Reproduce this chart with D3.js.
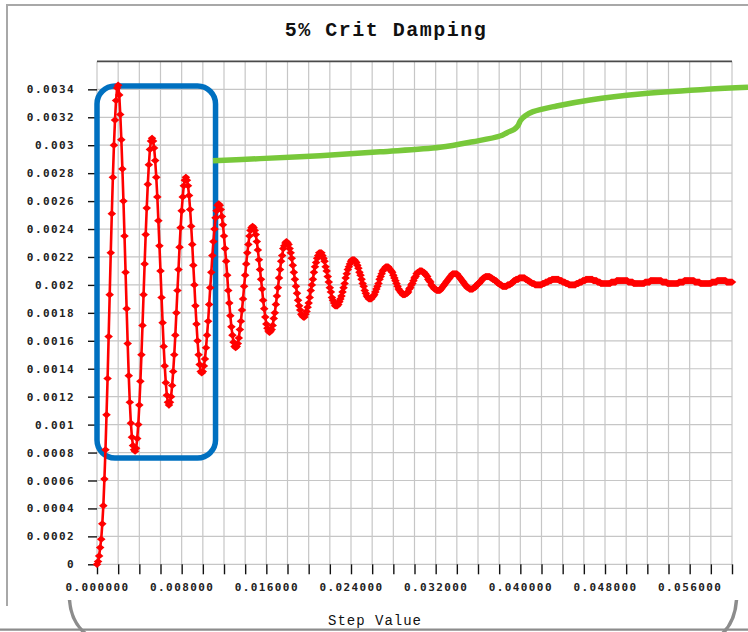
<!DOCTYPE html>
<html><head><meta charset="utf-8">
<script src="https://cdn.jsdelivr.net/npm/d3@7/dist/d3.min.js"></script>
<style>
html,body{margin:0;padding:0;background:#fff;}
svg{display:block;}
</style></head><body>
<svg id="chart" width="748" height="632"></svg>
<script>
// ---------------- data ----------------
const chartTitle = "5% Crit Damping";
const xAxisTitle = "Step Value";
const stepSize = 0.0001; // sampling interval of the step values
const displacement = [
0,0.00002,0.00006,0.00012,0.00018,0.00029,0.00042,0.00061,0.00082,0.00107,
0.00133,0.00163,0.00193,0.00223,0.00251,0.00277,0.00300,0.00318,0.00332,0.00341,
0.00343,0.00336,0.00322,0.00304,0.00283,0.00260,0.00235,0.00209,0.00183,0.00158,
0.00135,0.00116,0.00101,0.00091,0.00085,0.00082,0.00081,0.00083,0.00090,0.00100,
0.00114,0.00131,0.00150,0.00171,0.00193,0.00215,0.00236,0.00255,0.00272,0.00286,
0.00297,0.00303,0.00305,0.00303,0.00298,0.00289,0.00277,0.00263,0.00246,0.00228,
0.00210,0.00191,0.00173,0.00156,0.00142,0.00130,0.00121,0.00116,0.00114,0.00116,
0.00120,0.00128,0.00138,0.00150,0.00164,0.00180,0.00196,0.00211,0.00227,0.00241,
0.00253,0.00263,0.00271,0.00275,0.00277,0.00275,0.00271,0.00264,0.00254,0.00242,
0.00229,0.00214,0.00200,0.00185,0.00172,0.00160,0.00150,0.00143,0.00138,0.00137,
0.00138,0.00142,0.00147,0.00155,0.00164,0.00174,0.00186,0.00198,0.00209,0.00221,
0.00231,0.00240,0.00248,0.00253,0.00257,0.00258,0.00257,0.00254,0.00249,0.00243,
0.00235,0.00226,0.00217,0.00207,0.00196,0.00187,0.00178,0.00170,0.00164,0.00159,
0.00156,0.00155,0.00156,0.00158,0.00162,0.00168,0.00174,0.00182,0.00190,0.00199,
0.00207,0.00215,0.00223,0.00229,0.00235,0.00239,0.00241,0.00242,0.00241,0.00239,
0.00236,0.00231,0.00225,0.00218,0.00211,0.00204,0.00197,0.00189,0.00183,0.00177,
0.00172,0.00169,0.00167,0.00166,0.00167,0.00168,0.00171,0.00176,0.00180,0.00186,
0.00192,0.00198,0.00205,0.00211,0.00217,0.00221,0.00226,0.00228,0.00230,0.00231,
0.00230,0.00229,0.00226,0.00223,0.00219,0.00214,0.00209,0.00204,0.00199,0.00194,
0.00189,0.00185,0.00182,0.00179,0.00178,0.00177,0.00177,0.00179,0.00181,0.00184,
0.00187,0.00191,0.00196,0.00200,0.00204,0.00209,0.00213,0.00216,0.00219,0.00221,
0.00223,0.00223,0.00223,0.00221,0.00219,0.00217,0.00213,0.00210,0.00206,0.00202,
0.00198,0.00195,0.00191,0.00189,0.00187,0.00185,0.00185,0.00185,0.00186,0.00188,
0.00190,0.00192,0.00195,0.00198,0.00201,0.00205,0.00208,0.00211,0.00213,0.00215,
0.00217,0.00218,0.00218,0.00218,0.00217,0.00216,0.00214,0.00212,0.00209,0.00207,
0.00204,0.00201,0.00199,0.00196,0.00194,0.00192,0.00191,0.00190,0.00190,0.00190,
0.00191,0.00192,0.00193,0.00195,0.00197,0.00199,0.00201,0.00204,0.00206,0.00208,
0.00210,0.00211,0.00212,0.00213,0.00213,0.00213,0.00212,0.00211,0.00210,0.00209,
0.00207,0.00205,0.00203,0.00201,0.00199,0.00197,0.00196,0.00195,0.00194,0.00193,
0.00193,0.00193,0.00194,0.00194,0.00195,0.00197,0.00198,0.00200,0.00201,0.00203,
0.00205,0.00206,0.00208,0.00209,0.00209,0.00210,0.00210,0.00210,0.00209,0.00209,
0.00208,0.00207,0.00206,0.00204,0.00203,0.00202,0.00200,0.00199,0.00198,0.00197,
0.00197,0.00196,0.00196,0.00196,0.00196,0.00197,0.00198,0.00199,0.00200,0.00201,
0.00202,0.00203,0.00204,0.00205,0.00206,0.00207,0.00208,0.00208,0.00208,0.00208,
0.00208,0.00207,0.00206,0.00205,0.00204,0.00203,0.00202,0.00201,0.00200,0.00199,
0.00198,0.00198,0.00197,0.00197,0.00197,0.00197,0.00198,0.00198,0.00199,0.00200,
0.00201,0.00201,0.00202,0.00203,0.00204,0.00205,0.00205,0.00206,0.00206,0.00206,
0.00206,0.00206,0.00205,0.00205,0.00204,0.00204,0.00203,0.00203,0.00202,0.00201,
0.00201,0.00200,0.00200,0.00199,0.00199,0.00199,0.00199,0.00199,0.00200,0.00200,
0.00200,0.00201,0.00201,0.00202,0.00203,0.00203,0.00204,0.00204,0.00204,0.00205,
0.00205,0.00205,0.00205,0.00205,0.00205,0.00204,0.00204,0.00203,0.00203,0.00202,
0.00202,0.00201,0.00201,0.00201,0.00200,0.00200,0.00200,0.00200,0.00200,0.00200,
0.00200,0.00201,0.00201,0.00201,0.00202,0.00202,0.00202,0.00203,0.00203,0.00203,
0.00204,0.00204,0.00204,0.00204,0.00204,0.00204,0.00204,0.00203,0.00203,0.00203,
0.00202,0.00202,0.00202,0.00201,0.00201,0.00201,0.00200,0.00200,0.00200,0.00200,
0.00200,0.00200,0.00200,0.00201,0.00201,0.00201,0.00202,0.00202,0.00202,0.00203,
0.00203,0.00203,0.00204,0.00204,0.00204,0.00204,0.00204,0.00204,0.00204,0.00203,
0.00203,0.00203,0.00203,0.00202,0.00202,0.00202,0.00201,0.00201,0.00201,0.00201,
0.00201,0.00201,0.00201,0.00201,0.00201,0.00201,0.00202,0.00202,0.00202,0.00202,
0.00202,0.00203,0.00203,0.00203,0.00203,0.00203,0.00203,0.00203,0.00203,0.00203,
0.00203,0.00203,0.00202,0.00202,0.00202,0.00202,0.00202,0.00201,0.00201,0.00201,
0.00201,0.00201,0.00201,0.00201,0.00201,0.00201,0.00201,0.00201,0.00202,0.00202,
0.00202,0.00202,0.00202,0.00203,0.00203,0.00203,0.00203,0.00203,0.00203,0.00203,
0.00203,0.00203,0.00203,0.00203,0.00202,0.00202,0.00202,0.00202,0.00202,0.00201,
0.00201,0.00201,0.00201,0.00201,0.00201,0.00201,0.00201,0.00201,0.00201,0.00201,
0.00202,0.00202,0.00202,0.00202,0.00202,0.00203,0.00203,0.00203,0.00203,0.00203,
0.00203,0.00203,0.00203,0.00203,0.00203,0.00202,0.00202,0.00202,0.00202,0.00202,
0.00201,0.00201,0.00201,0.00201,0.00201,0.00201,0.00201,0.00201,0.00201,0.00201,
0.00201,0.00202,0.00202,0.00202,0.00202,0.00202,0.00203,0.00203,0.00203,0.00203,
0.00203,0.00203,0.00203,0.00203,0.00203,0.00202,0.00202,0.00202,0.00202,0.00202,
0.00202
];

const xTickValues = [0,0.002,0.004,0.006,0.008,0.010,0.012,0.014,0.016,0.018,0.020,
  0.022,0.024,0.026,0.028,0.030,0.032,0.034,0.036,0.038,0.040,0.042,0.044,0.046,
  0.048,0.050,0.052,0.054,0.056,0.058,0.060];
const xLabelValues = [0,0.008,0.016,0.024,0.032,0.040,0.048,0.056];
const xLabels = ["0.000000","0.008000","0.016000","0.024000","0.032000","0.040000","0.048000","0.056000"];
const yTickValues = [0,0.0002,0.0004,0.0006,0.0008,0.001,0.0012,0.0014,0.0016,0.0018,
  0.002,0.0022,0.0024,0.0026,0.0028,0.003,0.0032,0.0034];
const yLabels = ["0","0.0002","0.0004","0.0006","0.0008","0.001","0.0012","0.0014","0.0016","0.0018",
  "0.002","0.0022","0.0024","0.0026","0.0028","0.003","0.0032","0.0034"];
const xDomain = [0, 0.06];
const yDomain = [0, 0.0036];

// annotation (in data units)
const boxStep = [0, 0.0112];
const boxValue = [0.000761, 0.003424];
const trendStep = [0.010961,0.015402,0.021072,0.026741,0.032411,0.035529,0.038080,0.038742,
  0.039403,0.039781,0.040017,0.040442,0.041198,0.043438,0.046584,0.051309,0.057611,0.061514];
const trendValue = [0.002889,0.002904,0.002925,0.002953,0.002985,0.003025,0.003066,0.003090,
  0.003113,0.003141,0.003177,0.003209,0.003240,0.003281,0.003324,0.003367,0.003400,0.003415];

// ---------------- drawing ----------------
const svg = d3.select("#chart");
const W = 748, H = 632;
const plot = {left: 97, right: 732, top: 61.4, bottom: 564.3};

const x = d3.scaleLinear().domain(xDomain).range([plot.left, plot.right]);
const y = d3.scaleLinear().domain(yDomain).range([plot.bottom, plot.top]);

// frame decorations
const deco = svg.append("g");
deco.append("path").attr("d", `M6,5H${W}`).attr("stroke", "#a8a8a8").attr("stroke-width", 2).attr("fill", "none");
deco.append("path").attr("d", "M7,4V606").attr("stroke", "#a8a8a8").attr("stroke-width", 2).attr("fill", "none");
deco.append("path").attr("d", `M0,629.7H${W}`).attr("stroke", "#8c8c8c").attr("stroke-width", 2.2).attr("fill", "none");
deco.append("path").attr("d", "M69.5,600 Q71,622 86,634").attr("stroke", "#8c8c8c").attr("stroke-width", 3.5).attr("fill", "none");
deco.append("path").attr("d", "M736.5,600 Q735,622 722,634").attr("stroke", "#8c8c8c").attr("stroke-width", 3.5).attr("fill", "none");

// title
svg.append("text").attr("x", 386).attr("y", 36).attr("text-anchor", "middle")
  .attr("font-family", "'Liberation Mono','Courier New',monospace").attr("font-size", 20)
  .attr("font-weight", "bold").attr("letter-spacing", 1.5).attr("fill", "#111").text(chartTitle);

// grid
const grid = svg.append("g").attr("stroke", "#c6c6c6").attr("stroke-width", 1.2);
grid.selectAll("line.v").data(xTickValues).join("line")
  .attr("x1", d => x(d)).attr("x2", d => x(d)).attr("y1", plot.top).attr("y2", plot.bottom);
grid.selectAll("line.h").data(yTickValues).join("line").attr("class","h")
  .attr("x1", plot.left).attr("x2", plot.right).attr("y1", d => y(d)).attr("y2", d => y(d));
svg.append("line").attr("x1", plot.left).attr("x2", plot.right)
  .attr("y1", y(yDomain[1])).attr("y2", y(yDomain[1])).attr("stroke", "#4a4a4a").attr("stroke-width", 1.6);

// axes
const tickFont = "'DejaVu Sans Mono','Liberation Mono',monospace";
const yAxis = d3.axisLeft(y).tickValues(yTickValues).tickFormat((d, i) => yLabels[i]).tickSize(9).tickPadding(13);
const gy = svg.append("g").attr("transform", `translate(${plot.left},0)`).call(yAxis);
gy.select(".domain").remove();
gy.selectAll(".tick line").attr("stroke", "#111").attr("stroke-width", 1.4);
gy.selectAll(".tick text").attr("font-family", tickFont).attr("font-size", 11).attr("font-weight", "bold")
  .attr("letter-spacing", 1.4).attr("fill", "#222");

const labelFor = d => {
  const k = xLabelValues.findIndex(v => Math.abs(v - d) < 1e-9);
  return k >= 0 ? xLabels[k] : "";
};
const xAxis = d3.axisBottom(x).tickValues(xTickValues).tickFormat(labelFor).tickSize(10).tickPadding(9);
const gx = svg.append("g").attr("transform", `translate(0,${plot.bottom})`).call(xAxis);
gx.select(".domain").remove();
gx.selectAll(".tick line").attr("stroke", "#111").attr("stroke-width", 1.4);
gx.selectAll(".tick text").attr("font-family", tickFont).attr("font-size", 11).attr("font-weight", "bold")
  .attr("letter-spacing", 1.4).attr("fill", "#222");

svg.append("text").attr("x", 375).attr("y", 625).attr("text-anchor", "middle")
  .attr("font-family", "'Liberation Mono','Courier New',monospace").attr("font-size", 14)
  .attr("letter-spacing", 1).attr("fill", "#111").text(xAxisTitle);

// highlight box annotation
svg.append("rect")
  .attr("x", x(boxStep[0])).attr("y", y(boxValue[1]))
  .attr("width", x(boxStep[1]) - x(boxStep[0])).attr("height", y(boxValue[0]) - y(boxValue[1]))
  .attr("rx", 18).attr("ry", 18)
  .attr("fill", "none").attr("stroke", "#0070C0").attr("stroke-width", 5.5);

// trend annotation line
const trendPts = trendStep.map((s, i) => [s, trendValue[i]]);
svg.append("path").datum(trendPts)
  .attr("d", d3.line().x(d => x(d[0])).y(d => y(d[1])).curve(d3.curveCatmullRom.alpha(0.5)))
  .attr("fill", "none").attr("stroke", "#78C83A").attr("stroke-width", 5.5).attr("stroke-linecap", "butt");

// series
const pts = displacement.map((v, i) => [i * stepSize, v]);
svg.append("path").datum(pts)
  .attr("d", d3.line().x(d => x(d[0])).y(d => y(d[1])))
  .attr("fill", "none").attr("stroke", "#ff0000").attr("stroke-width", 2.6);
svg.append("g").selectAll("path").data(pts).join("path")
  .attr("transform", d => `translate(${x(d[0])},${y(d[1])})`)
  .attr("d", "M-4.3,0L0,-3.6L4.3,0L0,3.6Z").attr("fill", "#ff0000");
</script>
</body></html>
